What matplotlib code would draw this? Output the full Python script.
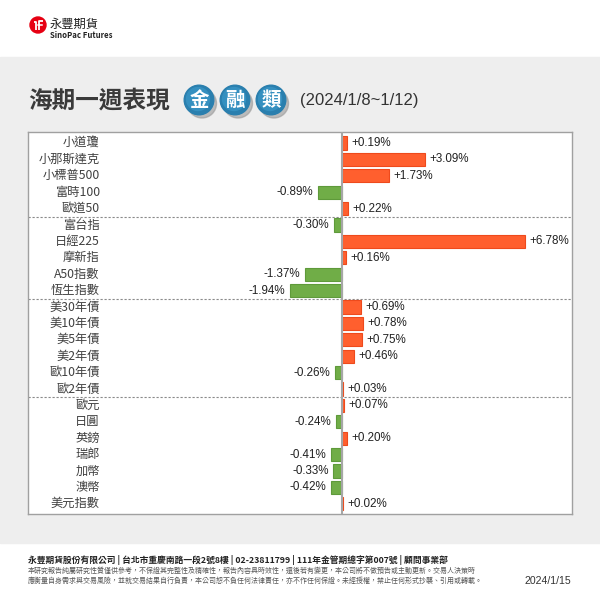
import matplotlib
matplotlib.use("Agg")
import matplotlib.pyplot as plt
from matplotlib.patches import Rectangle, Circle
import matplotlib.transforms as mtransforms

categories = ["小道瓊", "小那斯達克", "小標普500", "富時100", "歐道50",
              "富台指", "日經225", "摩新指", "A50指數", "恆生指數",
              "美30年債", "美10年債", "美5年債", "美2年債", "歐10年債", "歐2年債",
              "歐元", "日圓", "英鎊", "瑞郎", "加幣", "澳幣", "美元指數"]
values = [0.19, 3.09, 1.73, -0.89, 0.22,
          -0.30, 6.78, 0.16, -1.37, -1.94,
          0.69, 0.78, 0.75, 0.46, -0.26, 0.03,
          0.07, -0.24, 0.20, -0.41, -0.33, -0.42, 0.02]
group_breaks = [4.5, 9.5, 15.5]

title = "海期一週表現"
badge = ["金", "融", "類"]
period = "(2024/1/8~1/12)"
footer_main = "永豐期貨股份有限公司 | 台北市重慶南路一段2號8樓 | 02-23811799 | 111年金管期總字第007號 | 顧問事業部"
footer_l1 = "本研究報告純屬研究性質僅供參考，不保證其完整性及精確性，報告內容具時效性，還後若有變更，本公司將不做預告或主動更新。交易人決策時"
footer_l2 = "應衡量自身需求與交易風險，並就交易結果自行負責，本公司恕不負任何法律責任，亦不作任何保證。未經授權，禁止任何形式抄襲、引用或轉載。"
report_date = "2024/1/15"

CJK = ["Noto Sans CJK TC", "DejaVu Sans"]
LAT = ["Liberation Sans", "DejaVu Sans"]

fig = plt.figure(figsize=(6, 6), dpi=100)
fig.patch.set_facecolor("white")
bg = fig.add_axes([0, 0, 1, 1])
bg.set_xlim(0, 600)
bg.set_ylim(600, 0)
bg.axis("off")

# gray band
bg.add_patch(Rectangle((0, 57), 600, 486, color="#EEEEEE", zorder=0))

# logo
bg.add_patch(Circle((38, 25), 8, color="#E60012", zorder=2))
bg.plot([33.5, 36, 36], [22, 22, 30], color="white", lw=1.3, zorder=3, solid_capstyle="butt")
bg.plot([39, 39, 42.5], [30, 21, 21], color="white", lw=1.3, zorder=3, solid_capstyle="butt")
bg.plot([37.5, 42], [25, 25], color="white", lw=1.1, zorder=3)
bg.text(50, 24, "永豐期貨", fontsize=8.8, family=CJK, color="#222222", va="center", ha="left")
bg.text(50, 35.5, "SinoPac Futures", fontsize=5.6, family=CJK, weight="bold", color="#222222",
        va="center", ha="left")

# title
bg.text(28, 101, title, fontsize=17, family=CJK, weight="bold", color="#3A3A3A",
        va="center", ha="left")
for i, ch in enumerate(badge):
    cx = 199 + i * 36
    bg.add_patch(Circle((cx + 3, 103.5), 14.5, color="#9A9A9A", alpha=0.6, zorder=2))
    bg.add_patch(Circle((cx, 100), 14.8, color="#2A7FAE", zorder=3))
    bg.add_patch(Circle((cx - 1, 99), 11.5, color="#3590C0", zorder=3))
    bg.text(cx, 100.5, ch, fontsize=14, family=CJK, weight="bold", color="white",
            va="center", ha="center", zorder=4)
bg.text(300, 101, period, fontsize=12, family=LAT, color="#333333", va="center", ha="left")

# footer
bg.text(28, 560, footer_main, fontsize=6.3, family=CJK, weight="bold", color="#222222",
        va="center", ha="left")
bg.text(28, 571, footer_l1, fontsize=5.0, family=CJK, color="#555555", va="center", ha="left")
bg.text(28, 580.5, footer_l2, fontsize=5.0, family=CJK, color="#555555", va="center", ha="left")
bg.text(571, 581, report_date, fontsize=7.6, family=LAT, color="#333333", va="center", ha="right")

# chart panel
px0, px1, py0, py1 = 28, 572, 132, 514
ax = fig.add_axes([px0 / 600, (600 - py1) / 600, (px1 - px0) / 600, (py1 - py0) / 600])
ax.set_facecolor("white")
zero_px, ppu = 342, 27.0
ax.set_xlim((px0 - zero_px) / ppu, (px1 - zero_px) / ppu)
row0, step = 143, 16.4
ax.set_ylim((py1 - row0) / step, (py0 - row0) / step)
ax.set_xticks([])
ax.set_yticks([])
for s in ax.spines.values():
    s.set_color("#A0A0A0")
    s.set_linewidth(1.0)

ys = list(range(len(categories)))
colors = ["#FF5F2E" if v >= 0 else "#70AD47" for v in values]
edges = ["#EE4A1C" if v >= 0 else "#5E9A3A" for v in values]
ax.barh(ys, values, height=0.81, color=colors, edgecolor=edges, linewidth=0.8, zorder=2)
ax.axvline(0, color="#A6A6A6", lw=1.5, zorder=3)
for b in group_breaks:
    ax.axhline(b, color="#8A8A8A", lw=0.8, ls=(0, (2, 1.6)), zorder=1)

trans = mtransforms.blended_transform_factory(ax.transAxes, ax.transData)
for y, name, v in zip(ys, categories, values):
    ax.text(0.132, y, name, transform=trans, ha="right", va="center", fontsize=8.8,
            family=CJK, color="#404040")
    lab = f"{v:+.2f}%"
    if v >= 0:
        ax.annotate(lab, (v, y), xytext=(3.2, 0), textcoords="offset points", ha="left",
                    va="center", fontsize=8.4, family=LAT, color="#222222")
    else:
        ax.annotate(lab, (v, y), xytext=(-3.2, 0), textcoords="offset points", ha="right",
                    va="center", fontsize=8.4, family=LAT, color="#222222")

fig.savefig("out.png", dpi=100)
